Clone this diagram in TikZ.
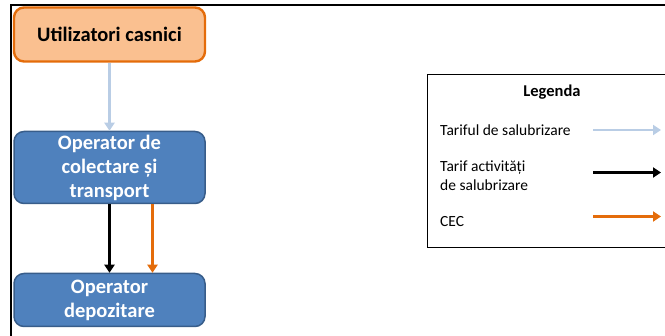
\documentclass[tikz,border=0pt]{standalone}
\usepackage{fontspec}
\setmainfont{Carlito}
\usetikzlibrary{arrows.meta,positioning}
\definecolor{orfill}{HTML}{FAC090}
\definecolor{ordraw}{HTML}{E46C0A}
\definecolor{blfill}{HTML}{4F81BD}
\definecolor{bldraw}{HTML}{385D8A}
\definecolor{ltblue}{HTML}{B9CDE5}

\begin{document}
\begin{tikzpicture}[x=1pt,y=-1pt]
                      \tikzstyle{box}=[rounded corners=10pt,line width=1.5pt,minimum width=191pt,align=center,inner sep=2pt,font=\bfseries\fontsize{20.5}{24}\selectfont]
                      \tikzstyle{flow}=[line width=2.6pt,-{Triangle[length=8pt,width=10pt]}]
                      \tikzstyle{legtext}=[anchor=west,align=left,inner sep=0pt,font=\fontsize{15.5}{19}\selectfont]
                      \useasboundingbox (0,0) rectangle (665,336);
                      \clip (0,0) rectangle (665,336);
                      \draw[line width=1.6pt] (11,345) -- (11,5) -- (675,5);
                      \node[box,draw=ordraw,fill=orfill,line width=2.4pt,minimum height=54pt] (util) at (109.5,34.5) {Utilizatori casnici};
                      \node[box,draw=bldraw,fill=blfill,text=white,minimum height=72pt] (oper) at (109.5,167.5) {Operator de\\colectare și\\transport};
                      \node[box,draw=bldraw,fill=blfill,text=white,minimum height=53pt] (depo) at (109.5,300) {Operator\\depozitare};
                      \draw[flow,ltblue] (util) -- (oper);
                      \draw[flow,black] (oper) -- (depo);
                      \draw[flow,ordraw] ([xshift=43pt]oper.south) -- ([xshift=43pt]depo.north);
                      % legenda
                      \node[draw,line width=1pt,minimum width=260pt,minimum height=173pt] (leg) at (557,161.5) {};
                      \node[font=\bfseries\fontsize{16.5}{20}\selectfont] (legtitle) at (552,92) {Legenda};
                      \node[legtext] (tsal) at (440,130) {Tariful de salubrizare};
                      \node[legtext] (tact) at (440,176) {Tarif activități\\de salubrizare};
                      \node[legtext] (tcec) at (440,222) {CEC};
                      \coordinate (sal1) at (593,130);
                      \coordinate (sal2) at (661,130);
                      \coordinate (act1) at (593,172.5);
                      \coordinate (act2) at (661,172.5);
                      \coordinate (cec1) at (593,216.5);
                      \coordinate (cec2) at (661,216.5);
                      \draw[flow,ltblue] (sal1) -- (sal2);
                      \draw[flow,black] (act1) -- (act2);
                      \draw[flow,ordraw] (cec1) -- (cec2);
                  \end{tikzpicture}
\end{document}
